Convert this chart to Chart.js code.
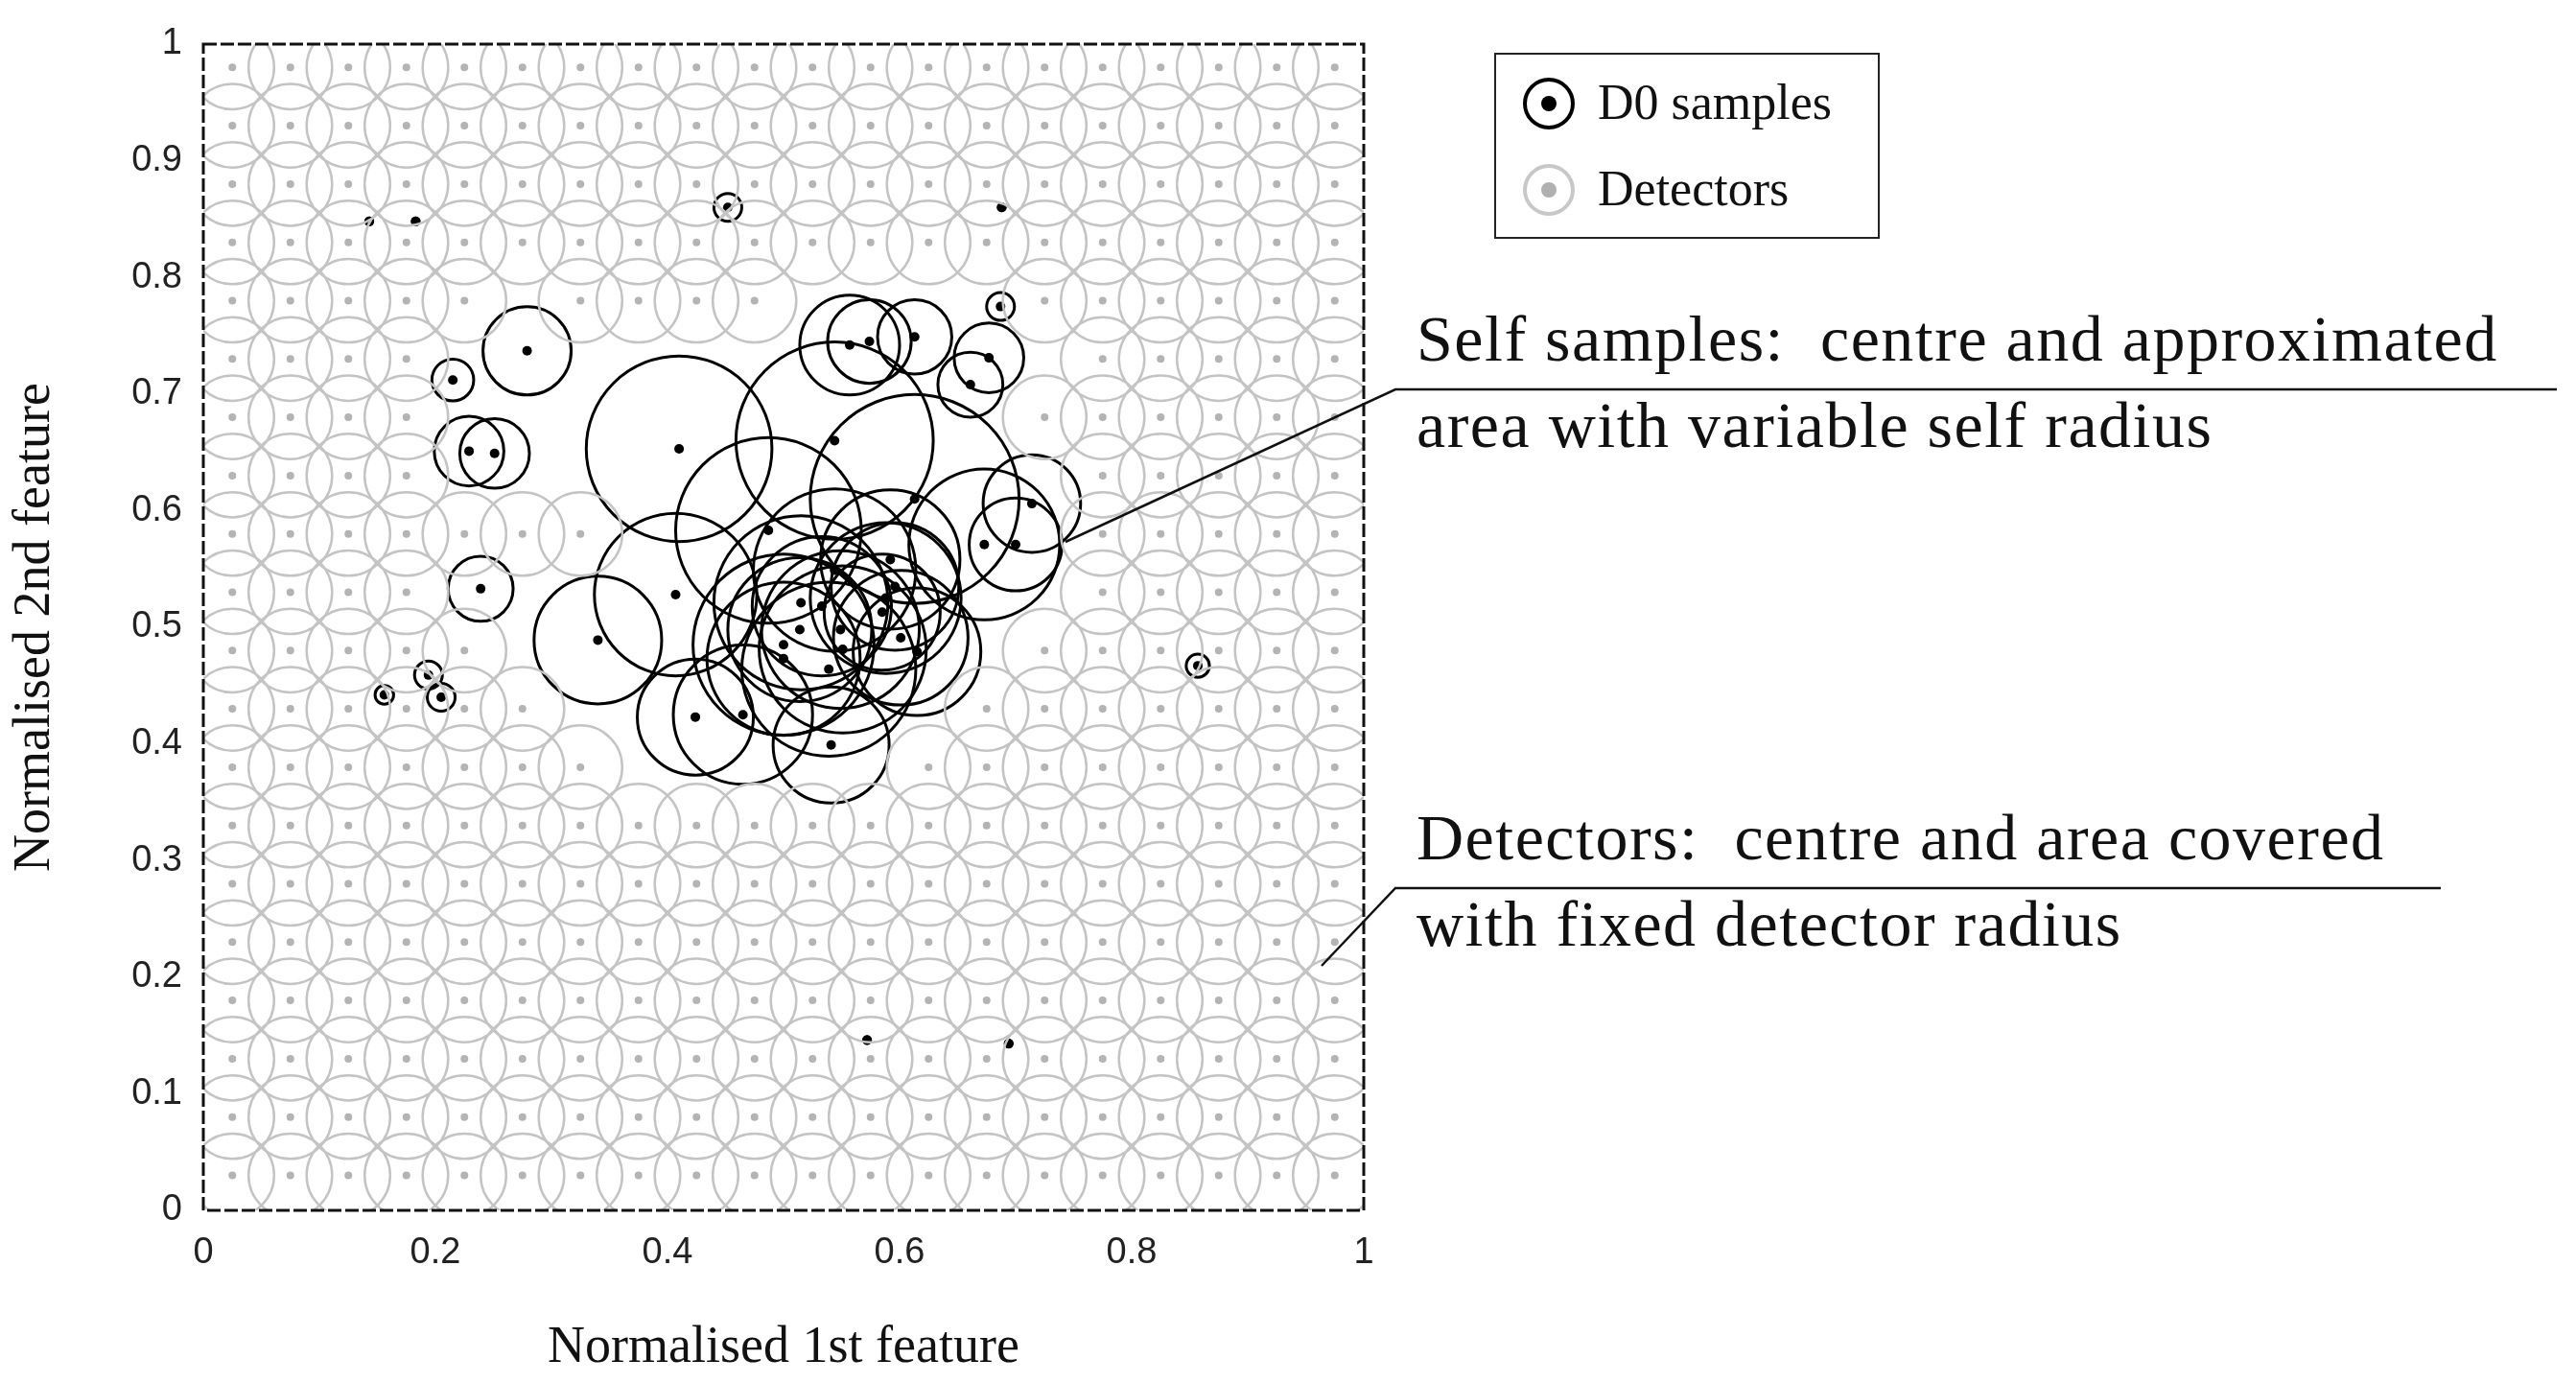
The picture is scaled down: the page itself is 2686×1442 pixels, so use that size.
<!DOCTYPE html>
<html>
<head>
<meta charset="utf-8">
<script src="https://cdn.jsdelivr.net/npm/chart.js@4.4.1/dist/chart.umd.min.js"></script>
<style>
  body { margin: 0; background: #fff; }
  #wrap { position: relative; width: 2686px; height: 1442px; }
  .txt { position: absolute; font-family: "Liberation Serif", serif; color: #111; white-space: nowrap; }
  .legend { position: absolute; left: 1558px; top: 55px; width: 398px; height: 190px; border: 2px solid #222; background: #fff; }
  .ic { position: absolute; width: 54px; height: 54px; border-radius: 50%; box-sizing: border-box; }
</style>
</head>
<body>
<div id="wrap">
  <canvas id="chart" width="2686" height="1442"></canvas>
  <div class="legend">
    <div class="ic" style="left:28px;top:24px;border:4px solid #000;"><div style="position:absolute;left:15px;top:15px;width:16px;height:16px;border-radius:50%;background:#000"></div></div>
    <div class="txt" style="left:106px;top:20px;font-size:52px;">D0 samples</div>
    <div class="ic" style="left:28px;top:114px;border:4px solid #c8c8c8;"><div style="position:absolute;left:15px;top:15px;width:16px;height:16px;border-radius:50%;background:#b0b0b0"></div></div>
    <div class="txt" style="left:106px;top:110px;font-size:52px;">Detectors</div>
  </div>
  <div class="txt" style="left:1477px;top:314px;font-size:68px;letter-spacing:1.5px;">Self samples: &nbsp;centre and approximated</div>
  <div class="txt" style="left:1477px;top:404px;font-size:68px;letter-spacing:1.5px;">area with variable self radius</div>
  <div class="txt" style="left:1477px;top:834px;font-size:68px;letter-spacing:1.5px;">Detectors: &nbsp;centre and area covered</div>
  <div class="txt" style="left:1477px;top:924px;font-size:68px;letter-spacing:1.5px;">with fixed detector radius</div>
</div>
<script>
// self samples (D0): centre and variable radius, in feature units
const selfX = [0.452, 0.687, 0.215, 0.156, 0.194, 0.205, 0.857, 0.239, 0.279, 0.229, 0.251,
  0.143, 0.183, 0.688, 0.572, 0.694,
  0.557, 0.574, 0.613, 0.677, 0.661,
  0.410, 0.544, 0.714, 0.700, 0.340, 0.424, 0.541, 0.407, 0.613,
  0.487, 0.592, 0.544, 0.596, 0.588, 0.515, 0.533, 0.585, 0.549, 0.514, 0.601,
  0.551, 0.500, 0.500, 0.615, 0.539, 0.465, 0.673];
const selfY = [0.860, 0.775, 0.712, 0.442, 0.459, 0.440, 0.467, 0.533, 0.737, 0.651, 0.649,
  0.848, 0.848, 0.860, 0.146, 0.143,
  0.742, 0.745, 0.749, 0.731, 0.708,
  0.653, 0.660, 0.606, 0.571, 0.489, 0.423, 0.399, 0.528, 0.610,
  0.583, 0.558, 0.549, 0.535, 0.525, 0.521, 0.518, 0.513, 0.498, 0.498, 0.491,
  0.481, 0.485, 0.473, 0.479, 0.464, 0.425, 0.571];
const selfR = [0.012, 0.012, 0.018, 0.008, 0.012, 0.012, 0.010, 0.028, 0.038, 0.030, 0.030,
  0.003, 0.003, 0.003, 0.003, 0.003,
  0.043, 0.036, 0.032, 0.030, 0.028,
  0.080, 0.085, 0.042, 0.040, 0.055, 0.050, 0.050, 0.070, 0.090,
  0.080, 0.060, 0.070, 0.055, 0.065, 0.075, 0.060, 0.050, 0.068, 0.062, 0.058,
  0.072, 0.078, 0.066, 0.055, 0.075, 0.060, 0.065];

// detector grid positions and fixed detector radius
const detGridX = [0.025, 0.075, 0.125, 0.175, 0.225, 0.275, 0.325, 0.375, 0.425, 0.475,
  0.525, 0.575, 0.625, 0.675, 0.725, 0.775, 0.825, 0.875, 0.925, 0.975];
const detGridY = [0.030, 0.080, 0.130, 0.180, 0.230, 0.280, 0.330, 0.380, 0.430, 0.480,
  0.530, 0.580, 0.630, 0.680, 0.730, 0.780, 0.830, 0.880, 0.930, 0.980];
const detRadius = 0.036;

const xTicks = [0, 0.2, 0.4, 0.6, 0.8, 1];
const yTicks = [0, 0.1, 0.2, 0.3, 0.4, 0.5, 0.6, 0.7, 0.8, 0.9, 1];

const selfPts = selfX.map((x, i) => ({ x: x, y: selfY[i], r: selfR[i] }));
const detPts = [];
detGridX.forEach(x => detGridY.forEach(y => {
  const covered = selfPts.some(s => s.r > 0.02 && Math.hypot(s.x - x, s.y - y) < s.r + 0.02);
  if (!covered) detPts.push({ x: x, y: y, r: detRadius });
}));

function pxRadius(ctx) {
  const sx = ctx.chart.scales.x;
  if (!sx || !ctx.raw) return 0;
  return Math.abs(sx.getPixelForValue(ctx.raw.r) - sx.getPixelForValue(0));
}

const fmt = v => (v === 0 || v === 1) ? String(v) : v.toFixed(1);

const decor = {
  id: 'decor',
  afterDraw(chart) {
    const c = chart.ctx, a = chart.chartArea;
    c.save();
    c.strokeStyle = '#111';
    c.lineWidth = 3;
    c.setLineDash([14, 4]);
    c.strokeRect(a.left, a.top, a.right - a.left, a.bottom - a.top);
    c.setLineDash([]);
    c.lineWidth = 2.5;
    c.beginPath();
    c.moveTo(2666, 406); c.lineTo(1455, 406); c.lineTo(1111, 565);
    c.moveTo(2545, 926); c.lineTo(1455, 926); c.lineTo(1378, 1007);
    c.stroke();
    c.restore();
  }
};

new Chart(document.getElementById('chart'), {
  type: 'scatter',
  data: {
    datasets: [
      { label: 'Detector area', data: detPts, pointRadius: pxRadius, pointBackgroundColor: 'rgba(0,0,0,0)',
        pointBorderColor: '#c4c4c4', pointBorderWidth: 2.5 },
      { label: 'Detectors', data: detPts, pointRadius: 4, pointBackgroundColor: '#b4b4b4', pointBorderWidth: 0 },
      { label: 'Self area', data: selfPts, pointRadius: pxRadius, pointBackgroundColor: 'rgba(0,0,0,0)',
        pointBorderColor: '#000', pointBorderWidth: 3 },
      { label: 'D0 samples', data: selfPts, pointRadius: 5, pointBackgroundColor: '#000', pointBorderWidth: 0 }
    ]
  },
  options: {
    responsive: false,
    animation: false,
    events: [],
    layout: { padding: { left: 0, right: 1264, top: 46, bottom: 0 } },
    plugins: { legend: { display: false }, tooltip: { enabled: false } },
    scales: {
      x: {
        min: 0, max: 1,
        afterFit: s => { s.height = 180; },
        afterBuildTicks: s => { s.ticks = xTicks.map(v => ({ value: v })); },
        grid: { display: false },
        border: { display: false },
        ticks: { color: '#222', font: { family: 'Liberation Sans', size: 38 }, padding: 14, maxRotation: 0, callback: fmt },
        title: { display: true, text: 'Normalised 1st feature', color: '#111',
          font: { family: 'Liberation Serif', size: 54 }, padding: { top: 24 } }
      },
      y: {
        min: 0, max: 1,
        afterFit: s => { s.width = 212; },
        afterBuildTicks: s => { s.ticks = yTicks.map(v => ({ value: v })); },
        grid: { display: false },
        border: { display: false },
        ticks: { color: '#222', font: { family: 'Liberation Sans', size: 38 }, padding: 14, callback: fmt },
        title: { display: true, text: 'Normalised 2nd feature', color: '#111',
          font: { family: 'Liberation Serif', size: 54 }, padding: { bottom: 20 } }
      }
    }
  },
  plugins: [decor]
});
</script>
</body>
</html>
